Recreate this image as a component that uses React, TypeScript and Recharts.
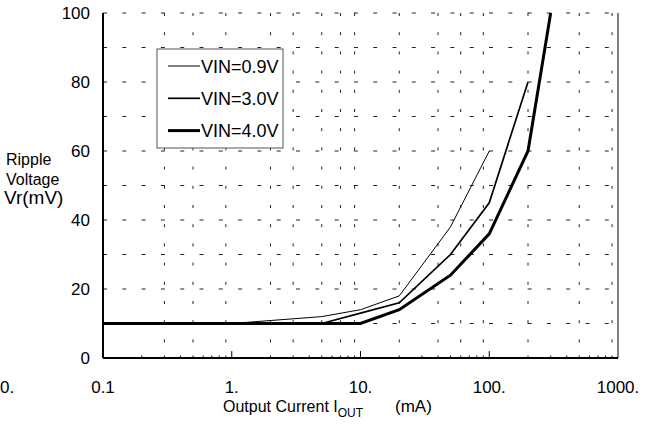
import React from 'react'
import {
  LineChart,
  Line,
  XAxis,
  YAxis,
  CartesianGrid,
  ReferenceLine,
  Customized,
} from 'recharts'

// axis ticks
const xTicks = [0.1, 1, 10, 100, 1000]
const xTickLabels = ['0.1', '1.', '10.', '100.', '1000.']
const yTicks = [0, 20, 40, 60, 80, 100]
const gridY = [10, 20, 30, 40, 50, 60, 70, 80, 90, 100]
const minorX = [
  0.2, 0.3, 0.4, 0.5, 0.6, 0.7, 0.8, 0.9,
  2, 3, 4, 5, 6, 7, 8, 9,
  20, 30, 40, 50, 60, 70, 80, 90,
  200, 300, 400, 500, 600, 700, 800, 900,
]
const majorX = [1, 10, 100]

// ripple voltage (mV) vs output current (mA)
const vin09X = [0.1, 1, 5, 10, 20, 50, 100]
const vin09Y = [10, 10, 12, 14, 18, 38, 60]
const vin30X = [0.1, 5, 10, 20, 50, 100, 200]
const vin30Y = [10, 10, 13, 16, 30, 45, 80]
const vin40X = [0.1, 10, 20, 50, 100, 200, 300]
const vin40Y = [10, 10, 14, 24, 36, 60, 100]

const seriesNames = ['VIN=0.9V', 'VIN=3.0V', 'VIN=4.0V']
const seriesWidths = [1, 1.7, 3]

const toPoints = (xs: number[], ys: number[]) => xs.map((x, i) => ({ x, y: ys[i] }))

const series = [
  toPoints(vin09X, vin09Y),
  toPoints(vin30X, vin30Y),
  toPoints(vin40X, vin40Y),
]

const FONT = '"Liberation Sans", Arial, sans-serif'

function Decorations() {
  return (
    <g fontFamily={FONT} fill="#000">
      {/* y axis title */}
      <text x={6} y={165} fontSize={16}>Ripple</text>
      <text x={6} y={185} fontSize={16}>Voltage</text>
      <text x={4} y={204} fontSize={19}>Vr(mV)</text>

      {/* stray left label */}
      <text x={0} y={393} fontSize={17}>0.</text>

      {/* x axis title */}
      <text x={223} y={412} fontSize={16}>
        Output Current I
        <tspan fontSize={12} dy={5}>OUT</tspan>
      </text>
      <text x={395} y={412} fontSize={17}>(mA)</text>

      {/* legend */}
      <rect x={157} y={49} width={126} height={99} fill="#fff" stroke="#555" strokeWidth={1} />
      {seriesNames.map((name, i) => {
        const cy = 66 + i * 32.3
        return (
          <g key={name}>
            <line x1={168} x2={200} y1={cy} y2={cy} stroke="#000" strokeWidth={seriesWidths[i]} />
            <text x={201} y={cy + 6.5} fontSize={18}>{name}</text>
          </g>
        )
      })}
    </g>
  )
}

export default function App() {
  return (
    <div style={{ width: 646, height: 426, background: '#fff' }}>
      <style>{`body{margin:0;}`}</style>
      <LineChart
        width={646}
        height={426}
        margin={{ top: 13, right: 28, left: 43, bottom: 38 }}
      >
        <CartesianGrid
          vertical={false}
          horizontalValues={gridY}
          stroke="#222"
          strokeDasharray="4 15.3"
        />
        <CartesianGrid
          horizontal={false}
          verticalValues={minorX}
          stroke="#222"
          strokeDasharray="3 16.2"
        />
        <XAxis
          dataKey="x"
          type="number"
          scale="log"
          domain={[0.1, 1000]}
          ticks={xTicks}
          allowDataOverflow
          height={30}
          tickFormatter={(v: number) => xTickLabels[xTicks.indexOf(v)] ?? String(v)}
          tick={{ fill: '#000', fontSize: 17, fontFamily: FONT }}
          tickLine={false}
          tickSize={6}
          tickMargin={17}
          axisLine={{ stroke: '#000', strokeWidth: 2 }}
        />
        <YAxis
          type="number"
          domain={[0, 100]}
          ticks={yTicks}
          width={60}
          allowDataOverflow
          tick={{ fill: '#000', fontSize: 17, fontFamily: FONT }}
          tickLine={false}
          tickSize={6}
          tickMargin={7}
          axisLine={{ stroke: '#000', strokeWidth: 2 }}
        />
        <ReferenceLine x={1000} stroke="#000" strokeWidth={1} ifOverflow="extendDomain" />
        {minorX.map((x) => (
          <ReferenceLine
            key={'m' + x}
            segment={[{ x, y: 0 }, { x, y: 0.7 }]}
            stroke="#000"
            strokeWidth={1}
          />
        ))}
        {majorX.map((x) => (
          <ReferenceLine
            key={'M' + x}
            segment={[{ x, y: 0 }, { x, y: 2 }]}
            stroke="#000"
            strokeWidth={1}
          />
        ))}
        {series.map((pts, i) => (
          <Line
            key={seriesNames[i]}
            data={pts}
            dataKey="y"
            type="linear"
            stroke="#000"
            strokeWidth={seriesWidths[i]}
            dot={false}
            activeDot={false}
            isAnimationActive={false}
          />
        ))}
        <Customized component={Decorations} />
      </LineChart>
    </div>
  )
}
